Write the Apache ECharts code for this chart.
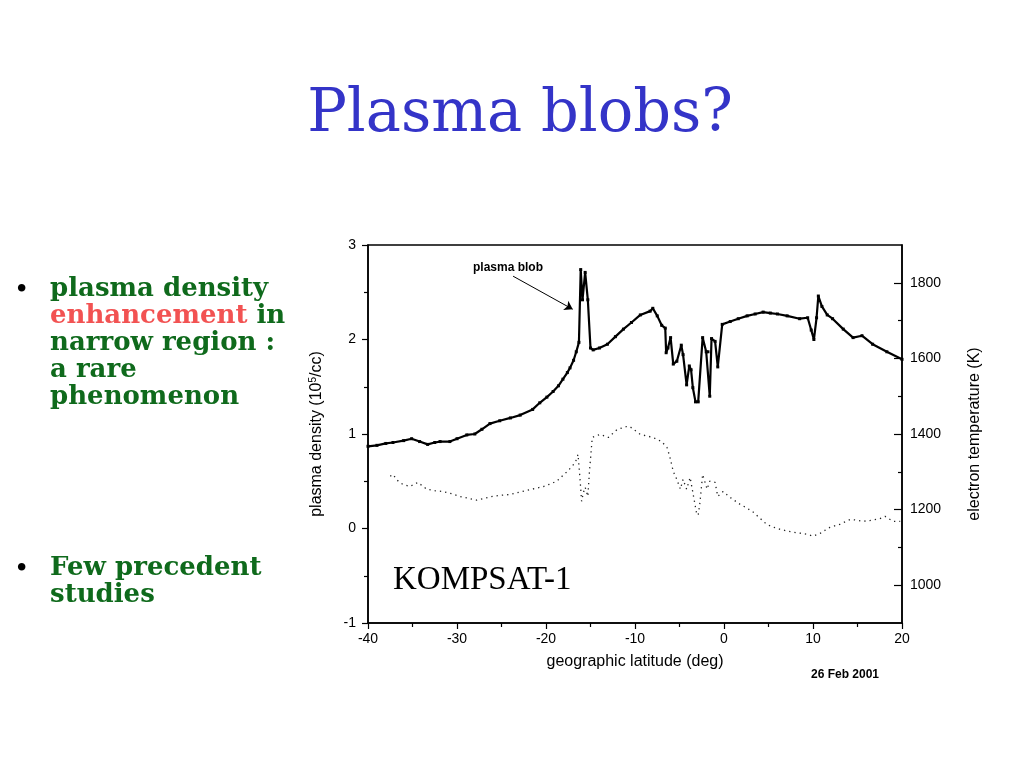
<!DOCTYPE html>
<html>
<head>
<meta charset="utf-8">
<script src="https://cdn.jsdelivr.net/npm/echarts@6/dist/echarts.min.js"></script>
<style>
html,body{margin:0;padding:0;background:#fff;}
#c{width:1024px;height:768px;}
</style>
</head>
<body>
<div id="c"></div>
<script>
// Plasma density (10^5/cc) vs geographic latitude
var densityLat = [-40.0,-39.0,-38.0,-37.2,-36.0,-35.1,-34.2,-33.3,-32.5,-31.9,-30.8,-30.0,-28.9,-28.0,-27.2,-26.3,-25.2,-24.0,-22.9,-21.5,-20.7,-19.9,-19.2,-18.6,-18.1,-17.6,-17.3,-16.9,-16.6,-16.3,-16.1,-15.9,-15.6,-15.3,-15.0,-14.7,-14.0,-13.1,-12.2,-11.3,-10.4,-9.4,-8.3,-8.0,-7.5,-7.0,-6.6,-6.5,-6.3,-6.0,-5.7,-5.3,-4.8,-4.6,-4.2,-3.9,-3.7,-3.5,-3.2,-2.9,-2.4,-2.0,-1.8,-1.6,-1.4,-1.0,-0.7,-0.2,0.7,1.6,2.6,3.5,4.4,5.2,6.0,7.1,8.5,9.4,9.8,10.1,10.4,10.6,11.0,11.6,12.2,13.4,14.5,15.5,16.7,18.3,20.0];
var densityVal = [0.87,0.88,0.90,0.91,0.93,0.95,0.92,0.89,0.91,0.92,0.92,0.95,0.99,1.00,1.05,1.11,1.14,1.17,1.20,1.26,1.33,1.39,1.45,1.51,1.58,1.65,1.70,1.78,1.87,1.97,2.74,2.42,2.71,2.42,1.91,1.89,1.91,1.95,2.03,2.11,2.18,2.26,2.30,2.33,2.25,2.15,2.12,1.86,1.91,2.02,1.74,1.77,1.94,1.84,1.52,1.72,1.68,1.49,1.34,1.34,2.02,1.87,1.87,1.40,2.01,1.98,1.71,2.16,2.19,2.22,2.25,2.27,2.29,2.28,2.27,2.25,2.22,2.23,2.10,2.00,2.23,2.46,2.35,2.26,2.22,2.11,2.02,2.04,1.95,1.87,1.79];

// Electron temperature (K) vs geographic latitude
var tempLat = [-37.5,-37.2,-36.6,-36.1,-35.3,-34.4,-33.4,-32.5,-31.6,-30.6,-29.7,-28.7,-27.8,-26.9,-26.0,-25.0,-24.0,-23.0,-22.1,-21.2,-20.3,-19.5,-18.8,-18.2,-17.6,-17.1,-16.7,-16.4,-16.2,-16.0,-15.8,-15.6,-15.3,-15.1,-14.8,-14.3,-13.9,-13.0,-12.0,-11.3,-10.9,-10.6,-9.7,-9.4,-8.7,-8.0,-7.0,-6.4,-6.1,-5.7,-5.3,-4.9,-4.6,-4.2,-3.8,-3.5,-3.1,-2.9,-2.7,-2.4,-1.9,-1.6,-1.0,-0.7,-0.1,0.7,1.8,2.5,3.3,4.0,4.8,5.5,6.3,7.0,7.8,8.5,9.3,10.0,10.8,11.4,11.9,13.0,14.2,15.0,15.6,16.7,17.5,18.1,19.0,19.8];
var tempVal = [1288,1293,1275,1267,1261,1272,1254,1250,1248,1242,1235,1230,1225,1230,1235,1238,1240,1246,1251,1256,1261,1268,1275,1288,1301,1314,1325,1346,1288,1222,1245,1259,1235,1306,1391,1396,1399,1391,1412,1417,1420,1420,1404,1399,1395,1391,1380,1364,1341,1301,1280,1254,1280,1254,1285,1245,1193,1185,1219,1293,1254,1275,1272,1235,1248,1232,1214,1205,1193,1178,1161,1154,1148,1144,1140,1138,1135,1130,1137,1146,1153,1161,1174,1172,1169,1172,1176,1182,1169,1169];

// Tick labels
var xTicks = [-40,-30,-20,-10,0,10,20];
var leftTicks = [-1,0,1,2,3];
var rightMajor = [1000,1200,1400,1600,1800];
var rightMinor = [1100,1300,1500,1700];

function pairs(xs, ys){ return xs.map(function(x,i){ return [x, ys[i]]; }); }

var chart = echarts.init(document.getElementById('c'), null, {renderer:'canvas'});
var sans = 'Liberation Sans, Arial, Helvetica, sans-serif';
var green = '#0f6a1c';
var bodyFont = 'bold 26px "DejaVu Serif", serif';

var option = {
  animation: false,
  backgroundColor: '#fff',
  grid: {left:368, right:122, top:245, bottom:145, show:true, borderColor:'#000', borderWidth:1.5, backgroundColor:'transparent'},
  xAxis: {
    type:'value', min:-40, max:20, interval:10,
    axisLine:{onZero:false, lineStyle:{color:'#000', width:1.5}},
    axisTick:{length:6, lineStyle:{color:'#000', width:1.2}},
    minorTick:{show:true, splitNumber:2, length:4, lineStyle:{color:'#000', width:1.2}},
    splitLine:{show:false},
    axisLabel:{color:'#000', fontSize:14, fontFamily:sans, margin:9},
    name:'geographic latitude (deg)', nameLocation:'middle', nameGap:31,
    nameTextStyle:{color:'#000', fontSize:16, fontFamily:sans}
  },
  yAxis: [
    {
      type:'value', min:-1, max:3, interval:1, position:'left',
      axisLine:{show:true, onZero:false, lineStyle:{color:'#000', width:1.5}},
      axisTick:{length:6, lineStyle:{color:'#000', width:1.2}},
      minorTick:{show:true, splitNumber:2, length:4, lineStyle:{color:'#000', width:1.2}},
      splitLine:{show:false},
      axisLabel:{color:'#000', fontSize:14, fontFamily:sans, margin:12},
      name:'plasma density (10{sup|5}/cc)', nameLocation:'middle', nameGap:42,
      nameTextStyle:{color:'#000', fontSize:16, fontFamily:sans,
        rich:{sup:{fontSize:10, verticalAlign:'top', padding:[0,0,8,0], fontFamily:sans, color:'#000'}}}
    },
    {
      type:'value', min:900, max:1900, position:'right',
      axisLine:{show:true, onZero:false, lineStyle:{color:'#000', width:1.5}},
      axisTick:{inside:true, length:8, customValues:rightMajor, lineStyle:{color:'#000', width:1.2}},
      splitLine:{show:false},
      axisLabel:{color:'#000', fontSize:14, fontFamily:sans, margin:8, customValues:rightMajor,
        formatter:function(v){ return String(v); }},
      name:'electron temperature (K)', nameLocation:'middle', nameGap:65,
      nameTextStyle:{color:'#000', fontSize:16, fontFamily:sans}
    },
    {
      type:'value', min:900, max:1900, position:'right', offset:0,
      axisLine:{show:false, onZero:false},
      axisTick:{show:true, inside:true, length:4, customValues:rightMinor, lineStyle:{color:'#000', width:1.2}},
      splitLine:{show:false},
      axisLabel:{show:false}
    }
  ],
  series: [
    {
      type:'line', name:'density', yAxisIndex:0,
      data: pairs(densityLat, densityVal),
      symbol:'rect', symbolSize:3, showSymbol:true,
      itemStyle:{color:'#000'},
      lineStyle:{color:'#000', width:2.2},
      markLine:{
        silent:true, symbol:['none','arrow'], symbolSize:8,
        label:{show:false},
        lineStyle:{color:'#000', width:1, type:'solid'},
        data:[[{coord:[-23.7,2.67]},{coord:[-17.0,2.32]}]]
      }
    },
    {
      type:'line', name:'temperature', yAxisIndex:1,
      data: pairs(tempLat, tempVal),
      showSymbol:false,
      lineStyle:{color:'#222', width:1.3, type:[1.3,4]}
    }
  ],
  graphic: [
    {type:'text', x:520, y:116, style:{text:'Plasma blobs?', fill:'#3434c8', font:'59px "DejaVu Serif", "Liberation Serif", serif', align:'center', verticalAlign:'middle'}},
    {type:'text', x:508, y:268, style:{text:'plasma blob', fill:'#000', font:'bold 12px '+sans, align:'center', verticalAlign:'middle'}},
    {type:'text', x:393, y:580, style:{text:'KOMPSAT-1', fill:'#000', font:'33px "Liberation Serif", "Times New Roman", serif', verticalAlign:'middle'}},
    {type:'text', x:845, y:675, style:{text:'26 Feb 2001', fill:'#000', font:'bold 12px '+sans, align:'center', verticalAlign:'middle'}},
    {type:'text', x:14, y:291, style:{text:'•', fill:'#000', font:'26px "DejaVu Serif", serif', verticalAlign:'middle'}},
    {type:'text', x:14, y:570, style:{text:'•', fill:'#000', font:'26px "DejaVu Serif", serif', verticalAlign:'middle'}},
    {type:'text', x:50, y:289, style:{text:'plasma density', fill:green, font:bodyFont, verticalAlign:'middle'}},
    {type:'text', x:50, y:316, style:{text:'{r|enhancement} in', fill:green, font:bodyFont, verticalAlign:'middle',
      rich:{r:{fill:'#f25252', font:bodyFont}}}},
    {type:'text', x:50, y:343, style:{text:'narrow region :', fill:green, font:bodyFont, verticalAlign:'middle'}},
    {type:'text', x:50, y:370, style:{text:'a rare', fill:green, font:bodyFont, verticalAlign:'middle'}},
    {type:'text', x:50, y:397, style:{text:'phenomenon', fill:green, font:bodyFont, verticalAlign:'middle'}},
    {type:'text', x:50, y:568, style:{text:'Few precedent', fill:green, font:bodyFont, verticalAlign:'middle'}},
    {type:'text', x:50, y:595, style:{text:'studies', fill:green, font:bodyFont, verticalAlign:'middle'}}
  ]
};
chart.setOption(option);
</script>
</body>
</html>
